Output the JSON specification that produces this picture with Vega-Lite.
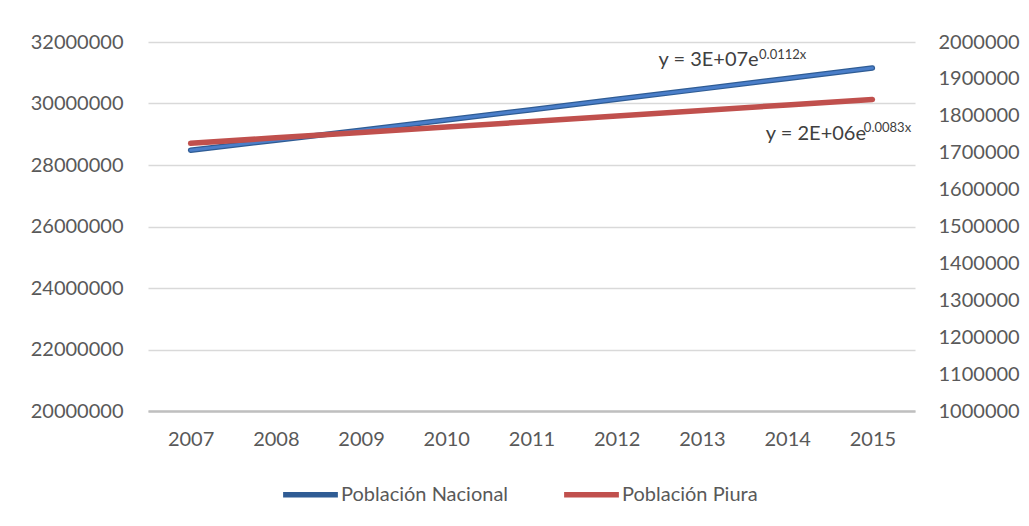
{
  "$schema": "https://vega.github.io/schema/vega-lite/v6.json",
  "width": 767,
  "height": 369,
  "autosize": "none",
  "padding": {"left": 148, "top": 42, "right": 114, "bottom": 115},
  "background": "white",
  "config": {
    "font": "Lato",
    "view": {"stroke": null},
    "axis": {"labelFont": "Lato", "labelFontSize": 20, "labelColor": "#595959", "ticks": false, "domain": false, "title": null},
    "legend": {"labelFont": "Lato", "labelFontSize": 20, "labelColor": "#595959", "labelLimit": 400}
  },
  "data": {
    "values": [
      {"year": 2007, "nacional": 28481901, "piura": 1725488},
      {"year": 2008, "nacional": 28807034, "piura": 1740200},
      {"year": 2009, "nacional": 29132013, "piura": 1755000},
      {"year": 2010, "nacional": 29461933, "piura": 1769555},
      {"year": 2011, "nacional": 29797694, "piura": 1784551},
      {"year": 2012, "nacional": 30135875, "piura": 1799607},
      {"year": 2013, "nacional": 30475144, "piura": 1814622},
      {"year": 2014, "nacional": 30814175, "piura": 1829496},
      {"year": 2015, "nacional": 31151643, "piura": 1844129}
    ]
  },
  "encoding": {
    "x": {
      "field": "year",
      "type": "quantitative",
      "scale": {"domain": [2006.5, 2015.5], "nice": false, "zero": false},
      "axis": {
        "values": [2007, 2008, 2009, 2010, 2011, 2012, 2013, 2014, 2015],
        "format": "d",
        "grid": false,
        "domain": true,
        "domainColor": "#BFBFBF",
        "domainWidth": 2.5,
        "labelPadding": 18
      }
    }
  },
  "layer": [
    {
      "encoding": {
        "y": {
          "field": "nacional",
          "type": "quantitative",
          "scale": {"domain": [20000000, 32000000], "nice": false, "zero": false},
          "axis": {
            "orient": "left",
            "values": [20000000, 22000000, 24000000, 26000000, 28000000, 30000000, 32000000],
            "format": "d",
            "grid": true,
            "gridColor": "#D9D9D9",
            "gridWidth": 1.3,
            "labelPadding": 25
          }
        }
      },
      "layer": [
        {
          "mark": {"type": "line", "strokeWidth": 5.5, "strokeCap": "round"},
          "encoding": {
            "color": {
              "datum": "Población Nacional",
              "type": "nominal",
              "scale": {"domain": ["Población Nacional", "Población Piura"], "range": ["#2F5C94", "#C0504D"]},
              "legend": {
                "orient": "none",
                "legendX": 132,
                "legendY": 422,
                "direction": "horizontal",
                "title": null,
                "symbolType": "stroke",
                "symbolSize": 3000,
                "symbolStrokeWidth": 5.5,
                "labelOffset": 0,
                "columnPadding": 44
              }
            }
          }
        },
        {
          "mark": {"type": "line", "strokeWidth": 3, "strokeCap": "round", "color": "#4A7EC9"},
          "encoding": {}
        },
        {
          "transform": [{"filter": "datum.year == 2015"}],
          "mark": {"type": "text", "text": "y = 3E+07e", "align": "left", "baseline": "alphabetic", "fontSize": 20, "color": "#404040"},
          "encoding": {"x": {"datum": 2012.49}, "y": {"datum": 31220000}}
        },
        {
          "transform": [{"filter": "datum.year == 2015"}],
          "mark": {"type": "text", "text": "0.0112x", "align": "left", "baseline": "alphabetic", "fontSize": 13, "color": "#404040"},
          "encoding": {"x": {"datum": 2013.67}, "y": {"datum": 31440000}}
        },
        {
          "transform": [{"filter": "datum.year == 2015"}],
          "mark": {"type": "text", "text": "y = 2E+06e", "align": "left", "baseline": "alphabetic", "fontSize": 20, "color": "#404040"},
          "encoding": {"x": {"datum": 2013.75}, "y": {"datum": 28810000}}
        },
        {
          "transform": [{"filter": "datum.year == 2015"}],
          "mark": {"type": "text", "text": "0.0083x", "align": "left", "baseline": "alphabetic", "fontSize": 13, "color": "#404040"},
          "encoding": {"x": {"datum": 2014.90}, "y": {"datum": 29060000}}
        }
      ]
    },
    {
      "encoding": {
        "y": {
          "field": "piura",
          "type": "quantitative",
          "scale": {"domain": [1000000, 2000000], "nice": false, "zero": false},
          "axis": {
            "orient": "right",
            "values": [1000000, 1100000, 1200000, 1300000, 1400000, 1500000, 1600000, 1700000, 1800000, 1900000, 2000000],
            "format": "d",
            "grid": false,
            "labelPadding": 23
          }
        }
      },
      "layer": [
        {
          "mark": {"type": "line", "strokeWidth": 5.5, "strokeCap": "round"},
          "encoding": {"color": {"datum": "Población Piura", "type": "nominal"}}
        }
      ]
    }
  ],
  "resolve": {"scale": {"y": "independent"}}
}
